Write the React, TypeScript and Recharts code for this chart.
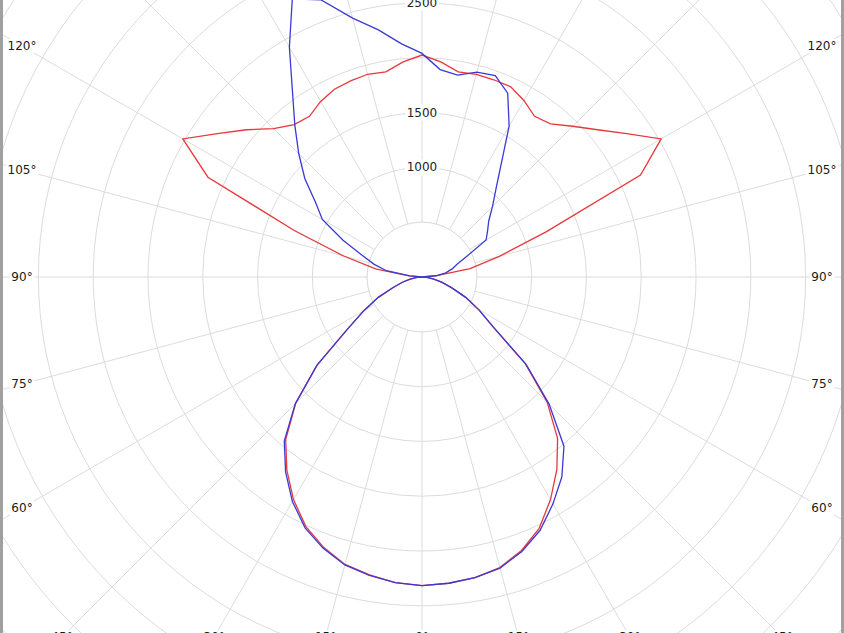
import React from "react";
import {
  RadarChart,
  Radar,
  PolarGrid,
  PolarAngleAxis,
  PolarRadiusAxis,
} from "recharts";

const W = 844;
const H = 633;
const CX = 422;
const CY = 277;
const MAX_CD = 5000;
const OUTER_R = 548; // px for MAX_CD
const HOLE_CD = 500;
const STEP = 5; // degrees between samples

// gamma: 0 = straight down, 180 = straight up
const gammas = [
  0, 5, 10, 15, 20, 25, 30, 35, 40, 45, 50, 55, 60, 65, 70, 75, 80, 85, 90,
  95, 100, 105, 110, 115, 120, 125, 130, 135, 140, 145, 150, 155, 160, 165,
  170, 175, 180,
];

// C0 plane (red, right half)
const c0 = [
  2815, 2805, 2785, 2745, 2655, 2530, 2345, 2145, 1925, 1615, 1230, 790, 600,
  440, 290, 190, 110, 45, 0, 135, 445, 730, 1205, 2200, 2520, 2280, 2090, 1945,
  1825, 1790, 1860, 1915, 1915, 1915, 1900, 1970, 2025,
];
// C180 plane (red, left half)
const c180 = [
  2815, 2800, 2760, 2715, 2625, 2510, 2345, 2150, 1935, 1630, 1250, 830, 610,
  440, 280, 185, 110, 45, 0, 120, 430, 740, 1240, 2155, 2520, 2280, 2090, 1915,
  1815, 1790, 1850, 1890, 1905, 1915, 1900, 1970, 2025,
];
// C90 plane (blue, right half)
const c90 = [
  2815, 2805, 2785, 2750, 2665, 2550, 2390, 2225, 2015, 1640, 1240, 790, 600,
  440, 290, 190, 110, 45, 0, 130, 220, 285, 340, 455, 675, 730, 795, 910, 1050,
  1260, 1590, 1850, 1955, 1935, 1870, 1900, 2040,
];
// C270 plane (blue, left half)
const c270 = [
  2815, 2800, 2765, 2720, 2635, 2525, 2365, 2170, 1955, 1635, 1250, 830, 610,
  440, 280, 185, 110, 45, 0, 110, 330, 455, 585, 795, 1050, 1185, 1395, 1590,
  1805, 2060, 2420, 2800, 2690, 2445, 2290, 2135, 2040,
];

const radiusTicks = [0, 500, 1000, 1500, 2000, 2500, 3000, 3500, 4000, 4500, 5000];
const radiusLabels = [1000, 1500, 2500];
const spokeStep = 15;
const sideLabels = [60, 75, 90, 105, 120];
const bottomLabels = [0, 15, 30, 45];

const RED = "#e8383c";
const BLUE = "#3a3ad6";
const GRID = "#dcdcdc";
const FONT = "DejaVu Sans, Verdana, sans-serif";

// full turn, counter-clockwise from the bottom: right half then left half
const data = Array.from({ length: 360 / STEP }, (_, i) => {
  const theta = i * STEP;
  const right = theta <= 180;
  const idx = gammas.indexOf(right ? theta : 360 - theta);
  return {
    theta,
    hole: HOLE_CD,
    red: right ? c0[idx] : c180[idx],
    blue: right ? c90[idx] : c270[idx],
  };
});

const spokeAngles = Array.from({ length: 360 / spokeStep }, (_, k) => -90 + k * spokeStep);
const ringRadii = radiusTicks.map((v) => (v / MAX_CD) * OUTER_R);

const RadiusTick = ({ x, y, payload }: any) => {
  if (!radiusLabels.includes(payload.value)) return null;
  return (
    <g>
      <rect x={x - 17} y={y - 8} width={34} height={16} fill="#fff" />
      <text
        x={x}
        y={y}
        textAnchor="middle"
        dominantBaseline="central"
        fontSize={12}
        fontFamily={FONT}
        fill="#222"
      >
        {payload.value}
      </text>
    </g>
  );
};

// angle labels sit on the spokes where they meet the frame
const SIDE_INSET = 22;
const BOTTOM_Y = 637;

const EdgeLabel = ({ x, y, text }: { x: number; y: number; text: string }) => {
  const w = text.length * 7.6 + 2;
  return (
    <g>
      <rect x={x - w / 2} y={y - 7} width={w} height={14} fill="#fff" />
      <text
        x={x}
        y={y}
        textAnchor="middle"
        dominantBaseline="central"
        fontSize={12}
        fontFamily={FONT}
        fill="#1a1a1a"
      >
        {text}
      </text>
    </g>
  );
};

const EdgeLabels = () => {
  const items: React.ReactNode[] = [];
  const rad = Math.PI / 180;
  sideLabels.forEach((g) => {
    const dx = CX - SIDE_INSET;
    const y = CY + (dx * Math.cos(g * rad)) / Math.sin(g * rad);
    items.push(<EdgeLabel key={`l${g}`} x={SIDE_INSET} y={y} text={`${g}°`} />);
    items.push(<EdgeLabel key={`r${g}`} x={W - SIDE_INSET} y={y} text={`${g}°`} />);
  });
  bottomLabels.forEach((g) => {
    const dy = BOTTOM_Y - CY;
    const dx = dy * Math.tan(g * rad);
    items.push(<EdgeLabel key={`bl${g}`} x={CX - dx} y={BOTTOM_Y} text={`${g}°`} />);
    if (g > 0)
      items.push(<EdgeLabel key={`br${g}`} x={CX + dx} y={BOTTOM_Y} text={`${g}°`} />);
  });
  return (
    <svg
      width={W}
      height={H}
      style={{ position: "absolute", left: 0, top: 0, pointerEvents: "none" }}
    >
      {items}
    </svg>
  );
};

export default function App() {
  return (
    <div
      style={{
        position: "absolute",
        left: 0,
        top: 0,
        width: W,
        height: H,
        overflow: "hidden",
        background: "#fff",
      }}
    >
      {/* the category axis places sample i one step further round, so start one step early */}
      <RadarChart
        width={W}
        height={H}
        data={data}
        cx={CX}
        cy={CY}
        outerRadius={OUTER_R}
        startAngle={-90 - STEP}
        endAngle={270 - STEP}
        margin={{ top: 0, right: 0, bottom: 0, left: 0 }}
      >
        <PolarGrid
          gridType="circle"
          polarAngles={spokeAngles}
          polarRadius={ringRadii}
          stroke={GRID}
        />
        <PolarAngleAxis dataKey="theta" tick={false} axisLine={false} tickLine={false} />
        <PolarRadiusAxis
          angle={90}
          domain={[0, MAX_CD]}
          tickCount={radiusTicks.length}
          axisLine={false}
          tickLine={false}
          tick={<RadiusTick />}
        />
        <Radar
          dataKey="hole"
          stroke={GRID}
          fill="#fff"
          fillOpacity={1}
          isAnimationActive={false}
        />
        <Radar
          dataKey="red"
          stroke={RED}
          strokeWidth={1.3}
          fill="none"
          isAnimationActive={false}
        />
        <Radar
          dataKey="blue"
          stroke={BLUE}
          strokeWidth={1.3}
          fill="none"
          isAnimationActive={false}
        />
      </RadarChart>
      <EdgeLabels />
      <div style={{ position: "absolute", left: 0, top: 0, width: 3, height: H, background: "#a0a0a0" }} />
      <div style={{ position: "absolute", right: 0, top: 0, width: 3, height: H, background: "#a0a0a0" }} />
    </div>
  );
}
